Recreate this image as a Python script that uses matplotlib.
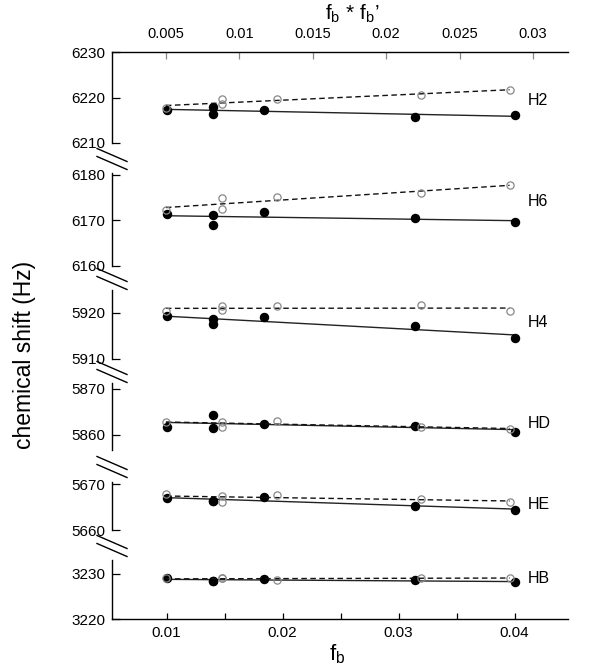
import numpy as np
import matplotlib
matplotlib.use('Agg')
import matplotlib.pyplot as plt
from matplotlib.lines import Line2D

plt.rcParams['font.family'] = ['Liberation Sans', 'DejaVu Sans']
plt.rcParams['mathtext.fontset'] = 'custom'
plt.rcParams['mathtext.rm'] = 'Liberation Sans'
plt.rcParams['mathtext.it'] = 'Liberation Sans'

# ---------------- data ----------------
# filled symbols: x is f_b (bottom axis)
fb = [0.0100, 0.0140, 0.0140, 0.0184, 0.0314, 0.0400]
# open symbols: x is f_b * f_b' (top axis)
fbfb = [0.0050, 0.0088, 0.0088, 0.01255, 0.0224, 0.0284]

names = ['H2', 'H6', 'H4', 'HD', 'HE', 'HB']

h2_filled = [6217.3, 6218.0, 6216.4, 6217.3, 6215.7, 6216.2]
h2_open = [6217.7, 6219.6, 6218.5, 6219.6, 6220.6, 6221.7]
h6_filled = [6171.5, 6171.2, 6169.0, 6171.8, 6170.6, 6169.6]
h6_open = [6172.3, 6174.9, 6172.5, 6175.1, 6176.1, 6177.7]
h4_filled = [5919.3, 5918.8, 5917.7, 5919.1, 5917.1, 5914.6]
h4_open = [5920.4, 5921.5, 5920.6, 5921.6, 5921.7, 5920.4]
hd_filled = [5861.8, 5864.4, 5861.4, 5862.4, 5862.0, 5860.7]
hd_open = [5862.8, 5862.7, 5861.8, 5863.1, 5861.8, 5861.2]
he_filled = [5667.0, 5666.4, 5666.4, 5667.3, 5665.3, 5664.4]
he_open = [5667.8, 5667.4, 5666.2, 5667.6, 5666.8, 5666.2]
hb_filled = [3229.0, 3228.5, 3228.5, 3228.9, 3228.6, 3228.2]
hb_open = [3229.0, 3229.0, 3229.0, 3228.7, 3229.0, 3229.2]

filled_sets = [h2_filled, h6_filled, h4_filled, hd_filled, he_filled, hb_filled]
open_sets = [h2_open, h6_open, h4_open, hd_open, he_open, hb_open]

ylims = [(6210, 6230), (6160, 6180.4), (5910, 5925), (5856.7, 5871.3),
         (5660, 5670.5), (3220, 3233.1)]
yticks = [[6210, 6220, 6230], [6160, 6170, 6180], [5910, 5920],
          [5860, 5870], [5660, 5670], [3220, 3230]]

bottom_ticks = [0.01, 0.015, 0.02, 0.025, 0.03, 0.035, 0.04]
bottom_labels = ['0.01', '', '0.02', '', '0.03', '', '0.04']
top_ticks = [0.005, 0.01, 0.015, 0.02, 0.025, 0.03]
top_labels = ['0.005', '0.01', '0.015', '0.02', '0.025', '0.03']

# ---------------- layout (pixels) ----------------
W, H = 600, 669
left_px, right_px = 112, 568
panels_px = [(52, 143), (173, 266), (290, 359), (383, 450), (482, 530), (560, 619)]
label_frac = [0.47, 0.69, 0.53, 0.40, 0.54, 0.69]

xlim_bottom = (0.0053, 0.0446)
xlim_top = (0.00133, 0.03238)

fig = plt.figure(figsize=(W / 100, H / 100), dpi=100)

axes = []
for i, (top, bot) in enumerate(panels_px):
    ax = fig.add_axes([left_px / W, 1 - bot / H, (right_px - left_px) / W, (bot - top) / H])
    ax.patch.set_alpha(0)
    ax.set_xlim(*xlim_bottom)
    ax.set_ylim(*ylims[i])
    ax.set_yticks(yticks[i])
    ax.set_yticklabels([str(t) for t in yticks[i]])
    for s in ['top', 'right']:
        ax.spines[s].set_visible(False)
    ax.spines['left'].set_linewidth(1.0)
    ax.tick_params(axis='y', direction='in', length=6, width=0.9, pad=5, labelsize=11)
    if i < len(panels_px) - 1:
        ax.spines['bottom'].set_visible(False)
        ax.set_xticks([])
    else:
        ax.spines['bottom'].set_linewidth(1.0)
        ax.set_xticks(bottom_ticks)
        ax.set_xticklabels(bottom_labels)
        ax.tick_params(axis='x', direction='in', length=4.5, width=0.9, pad=5, labelsize=11)

    tw = ax.twiny()
    tw.patch.set_alpha(0)
    tw.set_xlim(*xlim_top)
    for s in ['left', 'right', 'bottom']:
        tw.spines[s].set_visible(False)
    if i == 0:
        tw.spines['top'].set_linewidth(1.0)
        tw.set_xticks(top_ticks)
        tw.set_xticklabels(top_labels)
        tw.tick_params(axis='x', direction='in', length=5, width=0.9, color='#888888',
                       pad=8, labelsize=10.5)
    else:
        tw.spines['top'].set_visible(False)
        tw.set_xticks([])

    # filled symbols + regression line (solid)
    yf = np.array(filled_sets[i])
    xf = np.array(fb)
    pf = np.polyfit(xf, yf, 1)
    xl = np.array([xf.min(), xf.max()])
    ax.plot(xl, np.polyval(pf, xl), color='#222222', lw=1.0, zorder=2)
    ax.plot(xf, yf, 'o', color='black', ms=5.8, zorder=3)

    # open symbols + regression line (dashed)
    yo = np.array(open_sets[i])
    xo = np.array(fbfb)
    po = np.polyfit(xo, yo, 1)
    xl2 = np.array([xo.min(), xo.max()])
    tw.plot(xl2, np.polyval(po, xl2), color='#111111', lw=1.0, ls=(0, (4, 2.5)), zorder=2)
    tw.plot(xo, yo, 'o', mfc='none', mec='#888888', mew=0.9, ms=5.2, zorder=3)

    ax.text(0.912, label_frac[i], names[i], transform=ax.transAxes,
            ha='left', va='center', fontsize=11.5)
    axes.append(ax)

# break marks on the y axis
for i in range(len(panels_px) - 1):
    yc = (panels_px[i][1] + panels_px[i + 1][0]) / 2 + 1
    for off in (-4, 4):
        x0, x1 = left_px - 15, left_px + 15
        y0, y1 = yc + off - 6.5, yc + off + 6.5
        fig.add_artist(Line2D([x0 / W, x1 / W], [1 - y0 / H, 1 - y1 / H],
                              transform=fig.transFigure, color='black', lw=1.0))

fig.text(25 / W, 1 - 355 / H, 'chemical shift (Hz)', rotation=90,
         ha='center', va='center', fontsize=16.5)
fig.text(337 / W, 1 - 654 / H, r'$\mathregular{f_b}$', ha='center', va='center', fontsize=16)
fig.text(352 / W, 1 - 14 / H, r'$\mathregular{f_b}$ * $\mathregular{f_b}$’',
         ha='center', va='center', fontsize=15)

fig.savefig('out.png', dpi=100)
